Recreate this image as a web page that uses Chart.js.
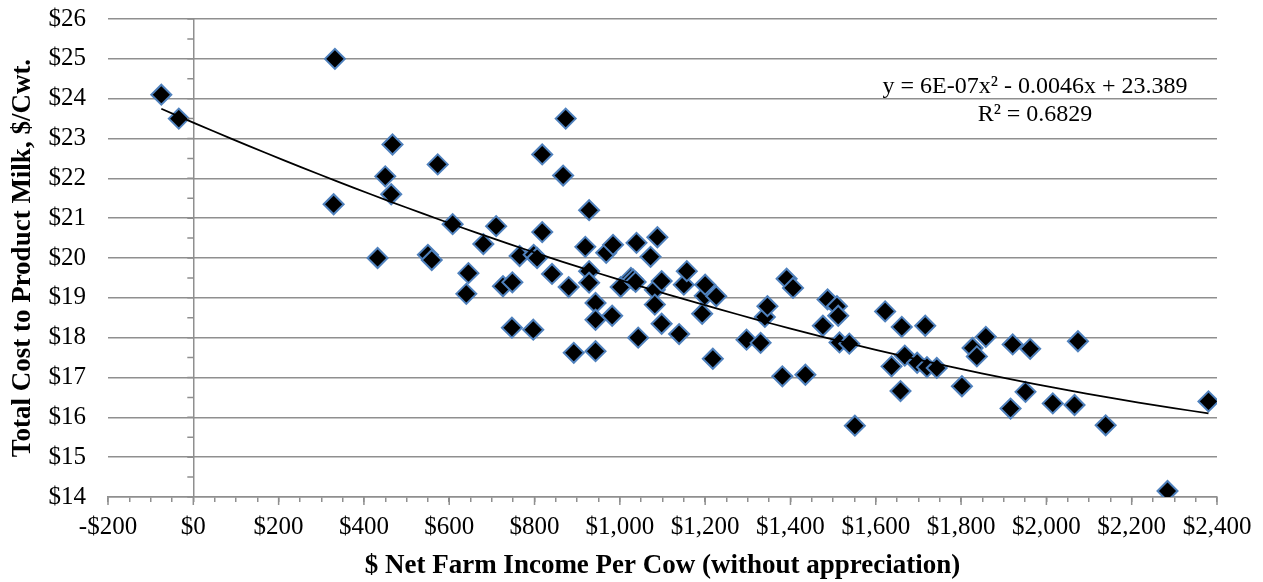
<!DOCTYPE html>
<html>
<head>
<meta charset="utf-8">
<script src="https://cdn.jsdelivr.net/npm/chart.js@4.4.1/dist/chart.umd.min.js"></script>
<style>
  html, body { margin: 0; padding: 0; background: #fff; }
  #wrap { width: 1263px; height: 582px; }
</style>
</head>
<body>
<div id="wrap"><canvas id="chart" width="1263" height="582"></canvas></div>
<script>
// net farm income per cow ($, without appreciation)
const incomePerCow = [
  -75, -34, 332, 329, 432, 450, 464, 467, 550, 559,
  573, 608, 640, 645, 680, 710, 726, 748, 747, 765,
  797, 798, 806, 818, 818, 841, 867, 873, 880, 892,
  919, 928, 928, 928, 943, 943, 943, 968, 982, 984,
  1002, 1026, 1031, 1037, 1039, 1043, 1072, 1082, 1082, 1088,
  1098, 1098, 1139, 1150, 1157, 1193, 1199, 1200, 1218, 1226,
  1297, 1330, 1340, 1346, 1381, 1391, 1406, 1435, 1476, 1487,
  1509, 1512, 1515, 1538, 1551, 1622, 1637, 1658, 1661, 1668,
  1697, 1716, 1720, 1743, 1802, 1827, 1837, 1858, 1916, 1921,
  1951, 1962, 2015, 2066, 2074, 2139, 2284, 2380
];
// total cost to produce milk ($/cwt)
const costPerCwt = [
  24.1, 23.5, 25.0, 21.35, 20.0, 22.05, 21.6, 22.85, 20.08, 19.95,
  22.35, 20.85, 19.1, 19.62, 20.35, 20.8, 19.29, 19.39, 18.25, 20.05,
  18.2, 20.08, 20.0, 22.6, 20.65, 19.6, 22.07, 23.5, 19.27, 17.62,
  20.28, 21.2, 19.67, 19.38, 18.87, 18.45, 17.66, 20.13, 18.55, 20.33,
  19.27, 19.5, 19.46, 19.4, 20.38, 18.0, 20.03, 19.2, 18.83, 20.52,
  19.42, 18.35, 18.09, 19.33, 19.67, 18.6, 19.05, 19.33, 17.47, 19.04,
  17.95, 17.87, 18.52, 18.79, 17.03, 19.48, 19.25, 17.07, 18.3, 18.96,
  18.79, 18.55, 17.88, 17.85, 15.79, 18.66, 17.28, 16.66, 18.27, 17.55,
  17.37, 18.3, 17.26, 17.24, 16.78, 17.74, 17.53, 18.02, 16.22, 17.83,
  16.64, 17.72, 16.35, 16.31, 17.91, 15.8, 14.15, 16.4
];

const xTitle = '$ Net Farm Income Per Cow (without appreciation)';
const yTitle = 'Total Cost to Product Milk, $/Cwt.';
const trendLabel = ['y = 6E-07x\u00B2 - 0.0046x + 23.389', 'R\u00B2 = 0.6829'];

const GRID = '#8f8f8f';
const SERIF = "'Liberation Serif', 'Times New Roman', serif";

// polynomial (order 2) trendline, least squares like Excel does
function polyFit(xs, ys) {
  const s = [0, 0, 0, 0, 0], t = [0, 0, 0];
  xs.forEach((x0, i) => {
    const x = x0 / 1000;
    let p = 1;
    for (let k = 0; k < 5; k++) { s[k] += p; if (k < 3) t[k] += p * ys[i]; p *= x; }
  });
  const m = [[s[0], s[1], s[2], t[0]], [s[1], s[2], s[3], t[1]], [s[2], s[3], s[4], t[2]]];
  for (let i = 0; i < 3; i++) {
    for (let j = i + 1; j < 3; j++) {
      const f = m[j][i] / m[i][i];
      for (let k = i; k < 4; k++) m[j][k] -= f * m[i][k];
    }
  }
  const c = [0, 0, 0];
  for (let i = 2; i >= 0; i--) {
    let v = m[i][3];
    for (let k = i + 1; k < 3; k++) v -= m[i][k] * c[k];
    c[i] = v / m[i][i];
  }
  return x => c[0] + c[1] * (x / 1000) + c[2] * (x / 1000) * (x / 1000);
}

const fit = polyFit(incomePerCow, costPerCwt);
const xMin = Math.min(...incomePerCow), xMax = Math.max(...incomePerCow);
const trendPts = [];
for (let i = 0; i <= 60; i++) {
  const x = xMin + (xMax - xMin) * i / 60;
  trendPts.push({ x: x, y: fit(x) });
}

const points = incomePerCow.map((x, i) => ({ x: x, y: costPerCwt[i] }));

// small extras: minor ticks on the $0 axis and the trendline equation
const extras = {
  id: 'extras',
  afterDatasetsDraw(chart) {
    const ctx = chart.ctx;
    const xs = chart.scales.x, ys = chart.scales.y;
    const x0 = xs.getPixelForValue(0);
    ctx.save();
    ctx.strokeStyle = GRID;
    ctx.lineWidth = 1.5;
    ctx.beginPath();
    for (let v = 14; v <= 26; v += 0.5) {
      const py = ys.getPixelForValue(v);
      ctx.moveTo(x0 - 6, py);
      ctx.lineTo(x0, py);
    }
    // longer marks under the labelled x ticks
    for (let v = -200; v <= 2400; v += 200) {
      const px = xs.getPixelForValue(v);
      ctx.moveTo(px, chart.chartArea.bottom);
      ctx.lineTo(px, chart.chartArea.bottom + 8);
    }
    ctx.stroke();
    ctx.fillStyle = '#000';
    ctx.font = '24px ' + SERIF;
    ctx.textAlign = 'center';
    ctx.textBaseline = 'middle';
    ctx.fillText(trendLabel[0], 1035, 87);
    ctx.fillText(trendLabel[1], 1035, 115);
    ctx.restore();
  }
};

new Chart(document.getElementById('chart'), {
  type: 'scatter',
  data: {
    datasets: [
      {
        label: 'Trend',
        data: trendPts,
        showLine: true,
        borderColor: '#000',
        borderWidth: 1.75,
        pointRadius: 0,
        fill: false,
        tension: 0
      },
      {
        label: 'Farms',
        data: points,
        pointStyle: 'rectRot',
        pointRadius: 10,
        pointBackgroundColor: '#000',
        pointBorderColor: '#4f81bd',
        pointBorderWidth: 2
      }
    ]
  },
  options: {
    responsive: false,
    animation: false,
    events: [],
    layout: { autoPadding: false, padding: { top: 19, right: 46, left: 0, bottom: 0 } },
    plugins: { legend: { display: false }, tooltip: { enabled: false } },
    scales: {
      x: {
        type: 'linear',
        min: -200,
        max: 2400,
        afterFit: s => { s.height = 85; },
        ticks: {
          stepSize: 50,
          autoSkip: false,
          maxRotation: 0,
          minRotation: 0,
          padding: 10,
          color: '#000',
          font: { family: SERIF, size: 25 },
          callback: v => {
            if (v % 200 !== 0) return '';
            return (v < 0 ? '-$' : '$') + Math.abs(v).toLocaleString('en-US');
          }
        },
        grid: {
          drawOnChartArea: true,
          color: c => (c.tick && c.tick.value === 0 ? GRID : 'rgba(0,0,0,0)'),
          tickColor: GRID,
          tickLength: 5,
          lineWidth: 1.5
        },
        border: { display: true, color: GRID, width: 1.5 },
        title: {
          display: true,
          text: xTitle,
          color: '#000',
          font: { family: SERIF, size: 27, weight: 'bold' },
          padding: { top: 0, bottom: 0 }
        }
      },
      y: {
        min: 14,
        max: 26,
        afterFit: s => { s.width = 108; s.paddingTop = 0; s.paddingBottom = 0; },
        ticks: {
          stepSize: 1,
          padding: 22,
          color: '#000',
          font: { family: SERIF, size: 25 },
          callback: v => '$' + v
        },
        grid: { color: GRID, lineWidth: 1.5, drawTicks: false },
        border: { display: false },
        title: {
          display: true,
          text: yTitle,
          color: '#000',
          font: { family: SERIF, size: 27, weight: 'bold' },
          padding: { top: 7, bottom: 0 }
        }
      }
    }
  },
  plugins: [extras]
});
</script>
</body>
</html>
